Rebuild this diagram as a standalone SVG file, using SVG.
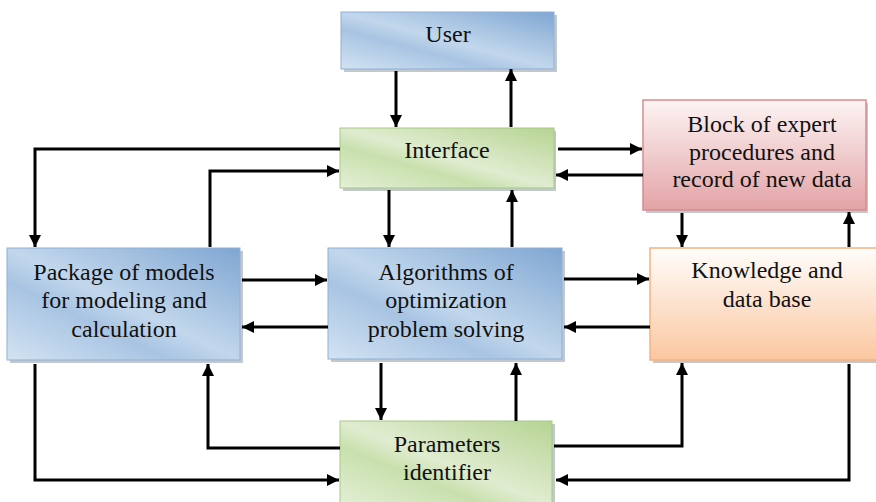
<svg xmlns="http://www.w3.org/2000/svg" width="876" height="502" viewBox="0 0 876 502">
<defs>
<linearGradient id="gBlue" x1="1" y1="0" x2="0" y2="1">
<stop offset="0" stop-color="#7fa6d2"/>
<stop offset="0.5" stop-color="#c2d7ec"/>
<stop offset="0.65" stop-color="#a8c4e3"/>
<stop offset="1" stop-color="#d3e3f2"/>
</linearGradient>
<linearGradient id="gGreen" x1="1" y1="0" x2="0" y2="1">
<stop offset="0" stop-color="#b6d493"/>
<stop offset="0.5" stop-color="#e0ecd0"/>
<stop offset="0.65" stop-color="#c8e0ad"/>
<stop offset="1" stop-color="#e4efd7"/>
</linearGradient>
<linearGradient id="gRed" x1="0" y1="0" x2="0" y2="1">
<stop offset="0" stop-color="#fdf4f4"/>
<stop offset="1" stop-color="#e3a3a6"/>
</linearGradient>
<linearGradient id="gOrange" x1="0" y1="0" x2="0" y2="1">
<stop offset="0" stop-color="#fffdfb"/>
<stop offset="1" stop-color="#fbc7a0"/>
</linearGradient>
<marker id="ah" viewBox="0 0 10 10" refX="10" refY="5" markerWidth="4" markerHeight="4" orient="auto" markerUnits="strokeWidth">
<path d="M0,0 L10,5 L0,10 z" fill="#000"/>
</marker>
</defs>
<style>
.sh{fill:#9aa3ad;opacity:0.6}
.lbl{font-family:"Liberation Serif","Times New Roman",serif;font-size:24px;fill:#111;text-anchor:middle}
.c{fill:none;stroke:#000;stroke-width:3;marker-end:url(#ah)}
</style>
<rect width="876" height="502" fill="#fff"/>

<g id="user">
<rect class="sh" x="344" y="15" width="213" height="57"/>
<rect x="341" y="12" width="213" height="57" fill="url(#gBlue)" stroke="#8fb0d6" stroke-width="1"/>
<text class="lbl" x="448" y="42">User</text>
</g>

<g id="interface">
<rect class="sh" x="343" y="131" width="213" height="60"/>
<rect x="340" y="128" width="214" height="60" fill="url(#gGreen)" stroke="#a6c983" stroke-width="1"/>
<text class="lbl" x="447" y="158">Interface</text>
</g>

<g id="block">
<rect class="sh" x="646" y="103" width="222" height="110"/>
<rect x="643" y="100" width="223" height="110" fill="url(#gRed)" stroke="#d98a8d" stroke-width="1.5"/>
<text class="lbl" x="762" y="132">Block of expert</text>
<text class="lbl" x="762" y="160">procedures and</text>
<text class="lbl" x="762" y="187">record of new data</text>
</g>

<g id="package">
<rect class="sh" x="10" y="251" width="233" height="112"/>
<rect x="7" y="248" width="233" height="112" fill="url(#gBlue)" stroke="#8fb0d6" stroke-width="1"/>
<text class="lbl" x="124" y="280">Package of models</text>
<text class="lbl" x="124" y="308">for modeling and</text>
<text class="lbl" x="124" y="337">calculation</text>
</g>

<g id="algorithms">
<rect class="sh" x="331" y="251" width="234" height="111"/>
<rect x="328" y="248" width="234" height="111" fill="url(#gBlue)" stroke="#8fb0d6" stroke-width="1"/>
<text class="lbl" x="446" y="280">Algorithms of</text>
<text class="lbl" x="446" y="308">optimization</text>
<text class="lbl" x="446" y="337">problem solving</text>
</g>

<g id="knowledge">
<rect class="sh" x="653" y="251" width="230" height="112"/>
<rect x="650" y="248" width="230" height="112" fill="url(#gOrange)" stroke="#f5b27f" stroke-width="1.5"/>
<text class="lbl" x="767" y="278">Knowledge and</text>
<text class="lbl" x="767" y="307">data base</text>
</g>

<g id="parameters">
<rect class="sh" x="343" y="424" width="212" height="82"/>
<rect x="340" y="421" width="212" height="85" fill="url(#gGreen)" stroke="#a6c983" stroke-width="1"/>
<text class="lbl" x="447" y="452">Parameters</text>
<text class="lbl" x="447" y="480">identifier</text>
</g>

<g id="connectors">
<path class="c" d="M396,71 V127"/>
<path class="c" d="M511,127 V69"/>
<path class="c" d="M340,149 H35 V247"/>
<path class="c" d="M210,247 V171 H339"/>
<path class="c" d="M389,190 V247"/>
<path class="c" d="M512,247 V190"/>
<path class="c" d="M558,149 H642"/>
<path class="c" d="M643,175 H556"/>
<path class="c" d="M682,213 V247"/>
<path class="c" d="M849,247 V212"/>
<path class="c" d="M242,280 H327"/>
<path class="c" d="M328,327 H242"/>
<path class="c" d="M564,279 H649"/>
<path class="c" d="M650,327 H564"/>
<path class="c" d="M35,364 V480 H339"/>
<path class="c" d="M340,448 H208 V364"/>
<path class="c" d="M381,363 V420"/>
<path class="c" d="M516,421 V363"/>
<path class="c" d="M554,446 H682 V363"/>
<path class="c" d="M849,364 V480 H556"/>
</g>
</svg>
